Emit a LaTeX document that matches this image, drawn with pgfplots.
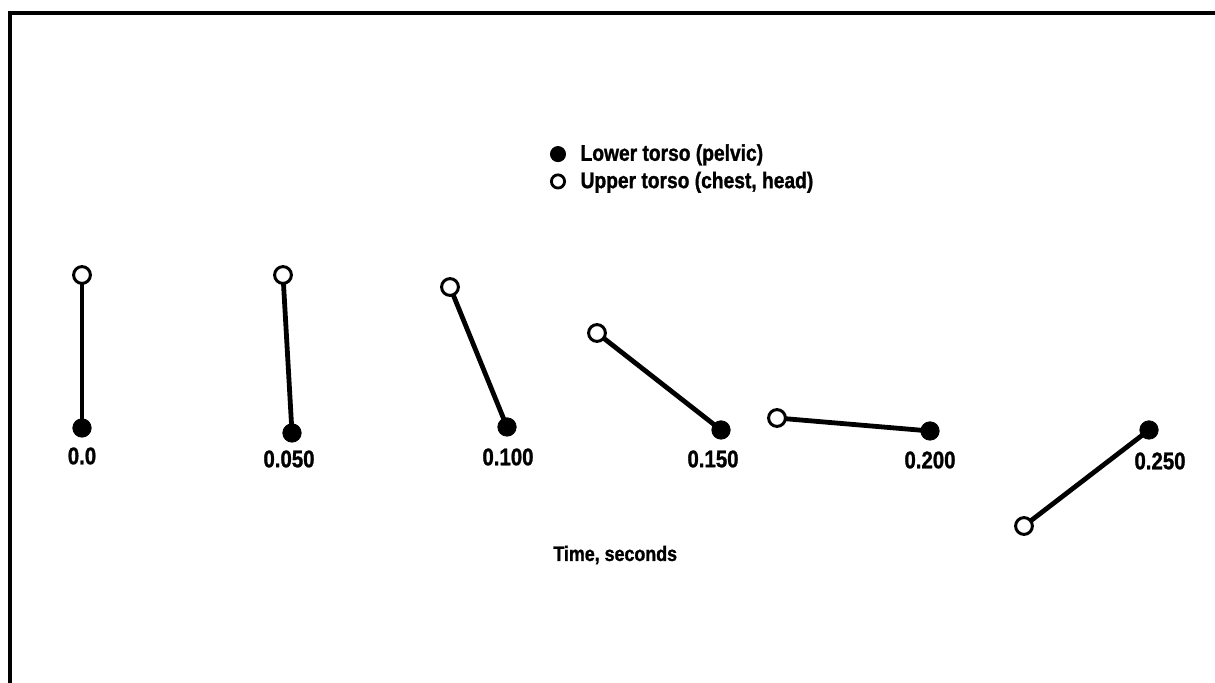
\documentclass[border=0pt]{standalone}
\usepackage{pgfplots}
\usepackage{pgfplotstable}
\pgfplotsset{compat=1.18}
\usepackage{fontspec}
\setmainfont{Liberation Sans}[FakeStretch=0.85, BoldFeatures={FakeBold=1.2}]

% positions (x right, y up)
\pgfplotstableread{
x    y
82   408
283  408
450  396
597  350
777  265
1024 157
}\uppertab
\pgfplotstableread{
x    y
82   255
292  250
507  256
721  253
930  252
1149 253
}\lowertab

\begin{document}
\begin{tikzpicture}
\begin{axis}[
    scale only axis,
    width=607.5pt, height=341.5pt,
    xmin=0, xmax=1215, ymin=0, ymax=683,
    hide axis,
    clip=false,
    legend style={at={(axis cs:550,543)}, anchor=north west, draw=none, fill=none,
        inner sep=0pt, row sep=0pt,
        /tikz/every odd column/.append style={column sep=5.5pt},
        font=\fontsize{11.3}{13}\selectfont\bfseries},
    legend cell align=left,
]
% frame (top and left)
\draw[line width=2.2pt] (axis cs:10,0) -- (axis cs:10,670) -- (axis cs:1215,670);

% links lower -> upper
\addplot[forget plot, line width=2.4pt] coordinates {(82,408) (82,255)};
\addplot[forget plot, line width=2.4pt] coordinates {(283,408) (292,250)};
\addplot[forget plot, line width=2.4pt] coordinates {(450,396) (507,256)};
\addplot[forget plot, line width=2.4pt] coordinates {(597,350) (721,253)};
\addplot[forget plot, line width=2.4pt] coordinates {(777,265) (930,252)};
\addplot[forget plot, line width=2.4pt] coordinates {(1024,157) (1149,253)};

\addplot[forget plot, only marks, mark=*, mark size=4.6pt, black] table {\lowertab};
\addplot[forget plot, only marks, mark=*, mark size=4.2pt, draw=black, fill=white, mark options={line width=1.5pt}] table {\uppertab};

\addlegendimage{only marks, mark=*, mark size=3.8pt, black}
\addlegendentry{Lower torso (pelvic)}
\addlegendimage{only marks, mark=*, mark size=3.3pt, draw=black, fill=white, mark options={line width=1.4pt}}
\addlegendentry{Upper torso (chest, head)}

% time labels
\foreach \xx/\yy/\lab in {82/227/0.0, 289/224/0.050, 508/226/0.100, 713/224/0.150, 930/223/0.200, 1160/222/0.250}{
  \edef\tmp{\noexpand\node[font=\noexpand\fontsize{12}{14}\noexpand\selectfont\noexpand\bfseries] at (axis cs:\xx,\yy) {\lab};}
  \tmp
}
\node[anchor=west, inner sep=0pt, font=\fontsize{10.5}{12}\selectfont\bfseries] at (axis cs:553,128) {Time, seconds};
\end{axis}
\pgfresetboundingbox
\path (0,0) rectangle (607.5pt,341.5pt);
\end{tikzpicture}
\end{document}
